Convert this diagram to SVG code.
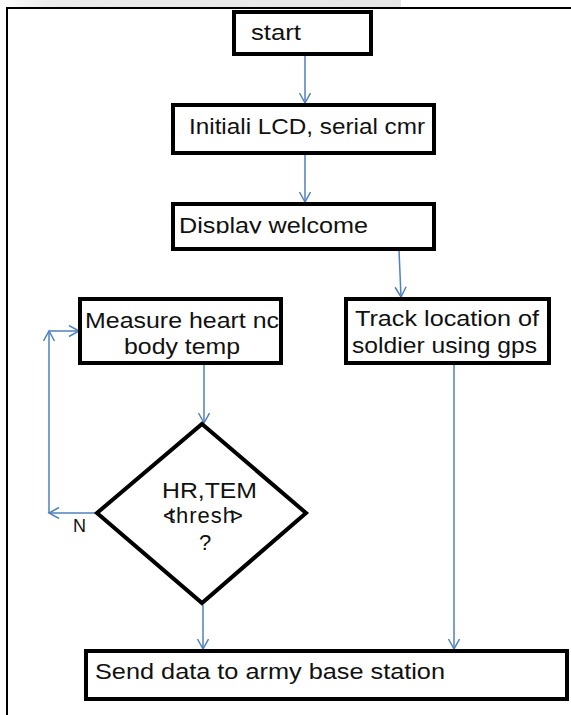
<svg xmlns="http://www.w3.org/2000/svg" width="571" height="715" viewBox="0 0 571 715">
<style>
.box{fill:#fff;stroke:#000;stroke-width:4}
.t{font-family:"Liberation Sans",Arial,sans-serif;font-size:22px;fill:#111}
.c{stroke:#4f81bd;stroke-width:1.5;fill:none;marker-end:url(#ah)}
</style>
<defs>
<linearGradient id="gb" x1="0" y1="0" x2="1" y2="0">
<stop offset="0" stop-color="#ffffff"/>
<stop offset="0.12" stop-color="#ececec"/>
<stop offset="1" stop-color="#e6e6e6"/>
</linearGradient>
<marker id="ah" markerUnits="userSpaceOnUse" markerWidth="14" markerHeight="14" refX="11" refY="6" orient="auto">
<path d="M1,0.5 L11,6 L1,11.5" fill="none" stroke="#4f81bd" stroke-width="1.5"/>
</marker>
<clipPath id="clipInit"><rect x="175" y="116" width="257" height="49"/></clipPath>
<clipPath id="clipDisp"><rect x="175" y="205" width="257" height="28.5"/></clipPath>
<clipPath id="clipMeas"><rect x="82" y="301" width="197" height="60"/></clipPath>
</defs>
<rect x="0" y="0" width="401" height="7" fill="url(#gb)"/>
<path d="M7,715 L7,8 L571,8" fill="none" stroke="#000" stroke-width="2"/>
<g id="connectors">
<line class="c" x1="305" y1="56" x2="305" y2="103"/>
<line class="c" x1="305" y1="154" x2="305" y2="202"/>
<line class="c" x1="399" y1="250" x2="401" y2="297"/>
<line class="c" x1="204" y1="364" x2="204" y2="423"/>
<line class="c" x1="97" y1="513" x2="49" y2="513"/>
<line class="c" x1="49" y1="513" x2="49" y2="331"/>
<line class="c" x1="49" y1="331" x2="79" y2="331"/>
<line class="c" x1="203" y1="605" x2="203" y2="649"/>
<line class="c" x1="454" y1="364" x2="454" y2="649"/>
<text class="t" x="73" y="532" style="font-size:18px">N</text>
</g>
<g id="start">
<rect class="box" x="234" y="12" width="137" height="42"/>
<text class="t" x="251" y="40" textLength="50" lengthAdjust="spacingAndGlyphs">start</text>
</g>
<g id="init">
<rect class="box" x="173" y="105" width="261" height="48"/>
<text class="t" x="189" y="134" textLength="236" lengthAdjust="spacingAndGlyphs" clip-path="url(#clipInit)">Initiali LCD, serial cmr</text>
</g>
<g id="display">
<rect class="box" x="173" y="204" width="261" height="45"/>
<text class="t" x="179" y="233" textLength="189" lengthAdjust="spacingAndGlyphs" clip-path="url(#clipDisp)">Display welcome</text>
</g>
<g id="measure">
<rect class="box" x="80" y="299" width="201" height="64"/>
<text class="t" x="85" y="328" textLength="194" lengthAdjust="spacingAndGlyphs" clip-path="url(#clipMeas)">Measure heart nc</text>
<text class="t" x="124" y="354" textLength="116" lengthAdjust="spacingAndGlyphs">body temp</text>
</g>
<g id="track">
<rect class="box" x="346" y="299" width="203" height="64"/>
<text class="t" x="355" y="326" textLength="184" lengthAdjust="spacingAndGlyphs">Track location of</text>
<text class="t" x="352" y="353" textLength="185" lengthAdjust="spacingAndGlyphs">soldier using gps</text>
</g>
<g id="decision">
<polygon class="box" points="202,424 306,513 202,603 97,513"/>
<text class="t" x="162" y="498" textLength="95" lengthAdjust="spacingAndGlyphs">HR,TEM</text>
<text class="t" x="163" y="523" dx="0 -7 1 1 1 1 1 -5">&lt;thresh&gt;</text>
<text class="t" x="199" y="550">?</text>
</g>
<g id="send">
<rect class="box" x="86" y="651" width="481" height="48"/>
<text class="t" x="95" y="679" textLength="350" lengthAdjust="spacingAndGlyphs">Send data to army base station</text>
</g>
</svg>
